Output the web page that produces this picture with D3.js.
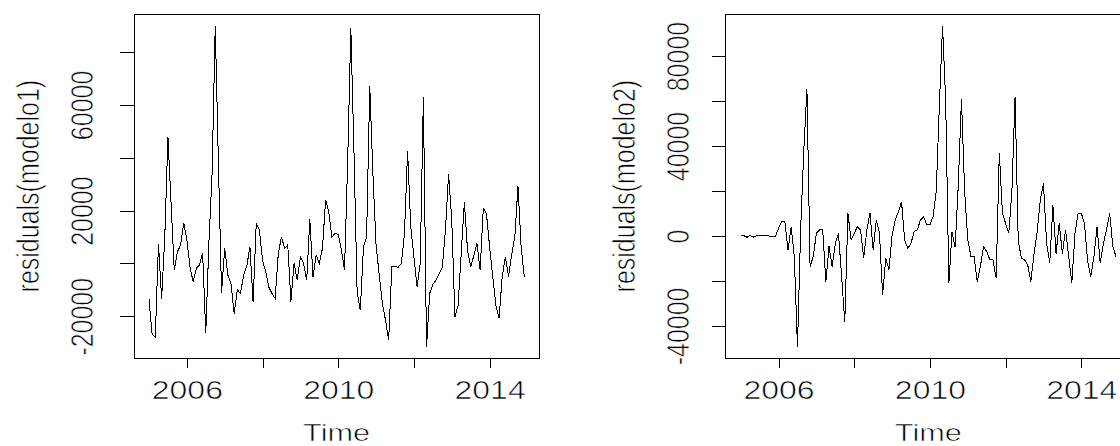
<!doctype html>
<html>
<head>
<meta charset="utf-8"/>
<title>residuals modelo1 / modelo2</title>
<script src="https://cdnjs.cloudflare.com/ajax/libs/d3/7.8.5/d3.min.js"></script>
<style>
  body { margin: 0; background: #fff; }
  svg { display: block; background: #fff; }
  text { font-family: "Liberation Sans", Arial, sans-serif; font-size: 25px; fill: #000;
         stroke: #fff; stroke-width: 0.6px; }
  .box { fill: none; stroke: #000; stroke-width: 1px; shape-rendering: crispEdges; }
  .serie { fill: none; stroke: #000; stroke-width: 1px; shape-rendering: crispEdges; }
  .tick line { stroke: #000; shape-rendering: crispEdges; }
</style>
</head>
<body>
<svg width="1120" height="446"></svg>
<script>
// monthly series, Jan 2005 - Dec 2014
var startYear = 2005, freq = 12;

var res1 = [
  -13600, -26900, -27800, 7500, -13300, 10000, 48000, 22700, -2500, 4400,
  6900, 15400, 9000, -1300, -7000, -1900, -600, 4000, -26500, 8000,
  34000, 90000, 38500, -11000, 5800, -4400, -7600, -19000, -10000, -11400,
  -4400, -1000, 6300, -14500, 15100, 12600, 1300, -3200, -9000, -11400,
  -13300, 3800, 10100, 5700, 7000, -14500, 0, -6300, 2500, 0,
  -6300, 16700, -5000, 3200, 0, 5700, 24000, 19500, 10000, 11400,
  11000, 5000, -2500, 39000, 89000, 42000, -11000, -17700, 6300, 10100,
  67000, 34000, 7000, -4400, -15200, -21500, -29000, -1300, -1000, -1500,
  0, 11000, 42700, 13900, 2500, -8800, 0, 63000, -31600, -11400,
  -8000, -6300, -4000, -1500, 12600, 33800, 16400, -20200, -16000, 3800,
  23300, 5000, -1300, 3000, 7600, -2500, 20800, 18900, 6300, -5000,
  -15800, -20800, -5000, 2500, -5000, 3200, 10100, 29300, 6300, -5000
];

var res2 = [
  200, 100, -600, 200, -500, 100, 0, 0, 100, 0,
  -300, -200, 3400, 6400, 6400, -6200, 4100, -9200, -49200, 2700,
  37900, 65200, -13600, -9200, 1200, 2700, 2700, -20300, -4700, -13600,
  -3300, 1200, -18100, -38100, 10100, -1800, 1200, 4100, 2700, -9900,
  2700, 10100, -6200, 7100, 1200, -26200, -9900, -15000, 440, 7100,
  10800, 15200, -1800, -5600, -3300, 2100, 2700, 7100, 8600, 5000,
  5000, 8600, 20000, 58000, 93500, 60000, -21000, 1600, -5000, 22700,
  60900, 20000, -1800, -9000, -9200, -20300, -13600, -4700, -6900, -10600,
  -10600, -18800, 37000, 10100, 5600, 1200, 20000, 61900, -2000, -9900,
  -10600, -12800, -20300, -8000, 1600, 16000, 23400, -3300, -12000, 13700,
  -7800, 5600, -7800, 2700, -9200, -21000, 1200, 10100, 10100, 5600,
  -11300, -18000, -9200, 4100, -12100, -3300, 2700, 10100, -4700, -9200
];

var xTicks = [2006, 2008, 2010, 2012, 2014];
var xLabels = [2006, 2010, 2014];
var yTicks1 = [-20000, 0, 20000, 40000, 60000, 80000];
var yLabels1 = [-20000, 20000, 60000];
var yTicks2 = [-40000, -20000, 0, 20000, 40000, 60000, 80000];
var yLabels2 = [-40000, 0, 40000, 80000];
var yLim1 = [-35900, 94400];
var yLim2 = [-54400, 98700];

var top_ = 14, bottom = 358.3, sx = 1.28;

var panels = [
  {data: res1, ylab: "residuals(modelo1)", left: 134, right: 539.3, ylim: yLim1, ticks: yTicks1, labels: yLabels1, lab: 53, tit: 95.5},
  {data: res2, ylab: "residuals(modelo2)", left: 725.7, right: 1131, ylim: yLim2, ticks: yTicks2, labels: yLabels2, lab: 48.7, tit: 91.2}
];

var svg = d3.select("svg");

panels.forEach(function(p) {
  var n = p.data.length;
  var t0 = startYear, t1 = startYear + (n - 1) / freq;
  var pad = (t1 - t0) * 0.04;

  var x = d3.scaleLinear().domain([t0 - pad, t1 + pad]).range([p.left, p.right]);
  var y = d3.scaleLinear().domain(p.ylim).range([bottom, top_]);

  var g = svg.append("g");

  var line = d3.line()
    .x((d, i) => x(startYear + i / freq))
    .y(d => y(d));

  g.append("path").datum(p.data).attr("class", "serie").attr("d", line);

  g.append("rect").attr("class", "box")
    .attr("x", p.left).attr("y", top_)
    .attr("width", p.right - p.left).attr("height", bottom - top_);

  var gx = g.append("g").attr("transform", "translate(0," + bottom + ")")
    .call(d3.axisBottom(x).tickValues(xTicks).tickSize(10).tickFormat(""));
  gx.select(".domain").remove();
  gx.selectAll(".tick").filter(d => xLabels.includes(d)).append("text")
    .attr("transform", "translate(0,41) scale(" + sx + ",1)")
    .attr("text-anchor", "middle")
    .text(d => d);

  var gy = g.append("g").attr("transform", "translate(" + p.left + ",0)")
    .call(d3.axisLeft(y).tickValues(p.ticks).tickSize(14).tickFormat(""));
  gy.select(".domain").remove();
  gy.selectAll(".tick").filter(d => p.labels.includes(d)).append("text")
    .attr("transform", "translate(" + (-p.lab) + ",0) scale(" + sx + ",1) rotate(-90)")
    .attr("text-anchor", "middle")
    .attr("dy", "0.36em")
    .text(d => d);

  g.append("text")
    .attr("transform", "translate(" + ((p.left + p.right) / 2) + ",441) scale(" + sx + ",1)")
    .style("font-size", "24px")
    .attr("text-anchor", "middle")
    .text("Time");

  g.append("text")
    .attr("transform", "translate(" + (p.left - p.tit) + "," + ((top_ + bottom) / 2) + ") scale(" + sx + ",1) rotate(-90)")
    .attr("text-anchor", "middle")
    .text(p.ylab);
});
</script>
</body>
</html>
